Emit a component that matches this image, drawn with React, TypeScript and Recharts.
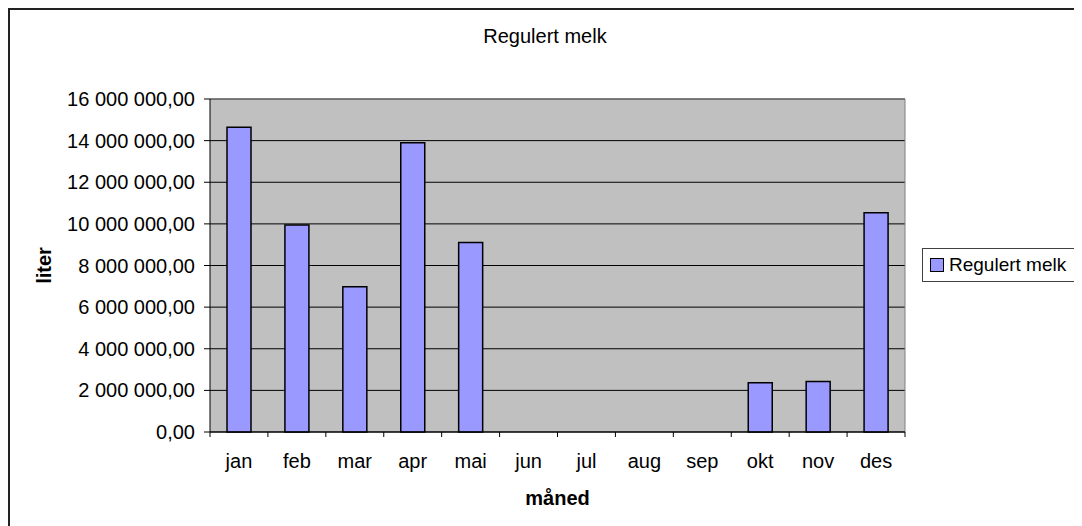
import React from 'react';
import { BarChart, Bar, XAxis, YAxis, CartesianGrid, Legend } from 'recharts';

const months = ['jan', 'feb', 'mar', 'apr', 'mai', 'jun', 'jul', 'aug', 'sep', 'okt', 'nov', 'des'];
const regulertMelk: (number | null)[] = [14640000, 9950000, 6980000, 13900000, 9110000, null, null, null, null, 2370000, 2430000, 10540000];
const yTicks = [0, 2000000, 4000000, 6000000, 8000000, 10000000, 12000000, 14000000, 16000000];
const seriesName = 'Regulert melk';
const chartTitle = 'Regulert melk';
const xTitle = 'måned';
const yTitle = 'liter';

const data = months.map((m, i) => ({ month: m, value: regulertMelk[i] }));

const FONT = '"Liberation Sans", Arial, sans-serif';
const BAR_FILL = '#9999FF';

const fmt = (v: number) => Math.round(v).toString().replace(/\B(?=(\d{3})+(?!\d))/g, ' ') + ',00';

const MonthTick = (props: any) => {
  const { x, y, payload } = props;
  const half = typeof payload?.offset === 'number' ? payload.offset : 0;
  const axisY = y - 22;
  const isLast = payload.value === months[months.length - 1];
  return (
    <g>
      <line x1={x - half} x2={x - half} y1={axisY} y2={axisY + 5} stroke="#000" strokeWidth={1} />
      {isLast && <line x1={x + half} x2={x + half} y1={axisY} y2={axisY + 5} stroke="#000" strokeWidth={1} />}
      <text x={x} y={axisY + 36} textAnchor="middle" fill="#000" fontSize={20} fontFamily={FONT}>
        {payload.value}
      </text>
    </g>
  );
};

const YLabel = (props: any) => {
  const vb = props.viewBox || {};
  const cx = vb.x + 36;
  const cy = vb.y + vb.height / 2;
  return (
    <text x={cx} y={cy} transform={`rotate(-90 ${cx} ${cy})`} textAnchor="middle" dominantBaseline="central" fontSize={20} fontWeight="bold" fontFamily={FONT} fill="#000">
      {yTitle}
    </text>
  );
};

const XLabel = (props: any) => {
  const vb = props.viewBox || {};
  const cx = vb.x + vb.width / 2;
  return (
    <text x={cx} y={vb.y + 73} textAnchor="middle" fontSize={20} fontWeight="bold" fontFamily={FONT} fill="#000">
      {xTitle}
    </text>
  );
};

const LegendBox = () => (
  <div
    style={{
      boxSizing: 'border-box',
      width: 154,
      height: 34,
      border: '1px solid #404040',
      background: '#fff',
      display: 'flex',
      alignItems: 'center',
      paddingLeft: 7,
      fontFamily: FONT,
      fontSize: 19,
      color: '#000',
      whiteSpace: 'nowrap',
    }}
  >
    <span style={{ display: 'inline-block', width: 12, height: 12, background: BAR_FILL, border: '1px solid #000', marginRight: 5 }} />
    <span>{seriesName}</span>
  </div>
);

export default function App() {
  return (
    <div style={{ position: 'relative', width: 1074, height: 518, overflow: 'hidden', background: '#fff' }}>
      <BarChart width={1074} height={518} data={data} margin={{ top: 91, right: 177, bottom: 0, left: 0 }}>
        <CartesianGrid fill="#C0C0C0" stroke="#000" strokeWidth={1} vertical={false} />
        <CartesianGrid
          fill="none"
          stroke="#808080"
          strokeWidth={1}
          horizontalCoordinatesGenerator={(p: any) => [p.offset.top]}
          verticalCoordinatesGenerator={(p: any) => [p.offset.left + p.offset.width]}
        />
        <XAxis
          dataKey="month"
          height={94}
          axisLine={{ stroke: '#000', strokeWidth: 1 }}
          tickLine={{ stroke: 'none' }}
          tickSize={5}
          tickMargin={17}
          interval={0}
          tick={<MonthTick />}
          label={<XLabel />}
        />
        <YAxis
          width={202}
          domain={[0, 16000000]}
          ticks={yTicks}
          tickFormatter={fmt}
          axisLine={{ stroke: '#000', strokeWidth: 1 }}
          tickLine={{ stroke: '#000', strokeWidth: 1 }}
          tickSize={6}
          tickMargin={9}
          tick={{ fill: '#000', fontSize: 20, fontFamily: FONT }}
          interval={0}
          label={<YLabel />}
        />
        <Legend
          layout="horizontal"
          align="center"
          verticalAlign="middle"
          wrapperStyle={{ left: 914, top: 240, width: 154, height: 34 }}
          content={<LegendBox />}
        />
        <Bar dataKey="value" name={seriesName} fill={BAR_FILL} stroke="#000" strokeWidth={1.5} barSize={24} isAnimationActive={false} />
      </BarChart>
      <div
        style={{
          position: 'absolute',
          left: 0,
          top: 18,
          width: 1074,
          textAlign: 'center',
          fontFamily: FONT,
          fontSize: 20,
          lineHeight: '20px',
          color: '#000',
        }}
      >
        {chartTitle}
      </div>
      <div
        style={{
          position: 'absolute',
          left: 0,
          top: 0,
          width: 3000,
          height: 3000,
          border: '2px solid #222',
          pointerEvents: 'none',
        }}
      />
    </div>
  );
}
